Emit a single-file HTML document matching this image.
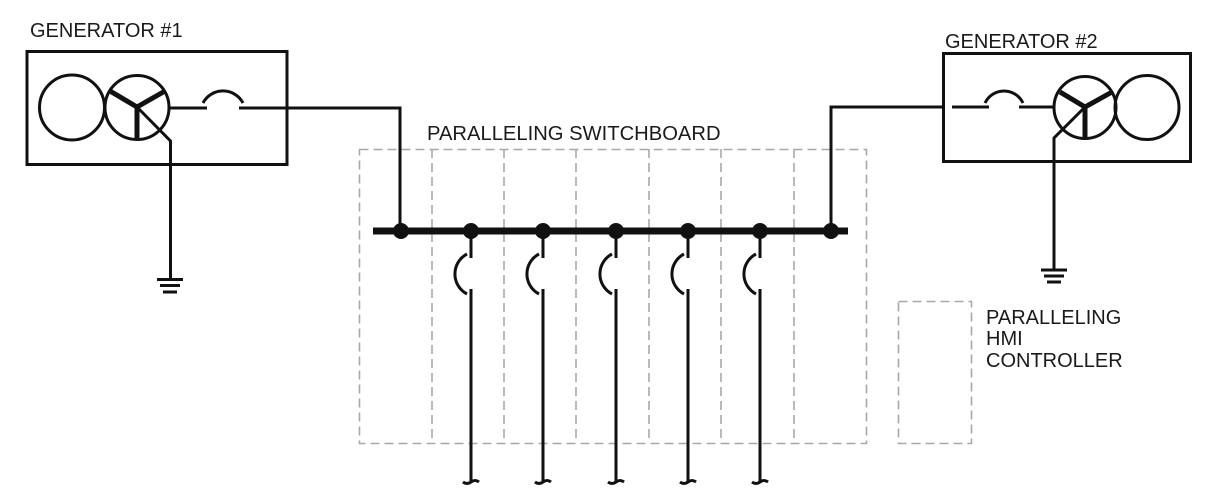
<!DOCTYPE html>
<html><head><meta charset="utf-8"><style>
html,body{margin:0;padding:0;background:#fff;width:1211px;height:503px;overflow:hidden}
svg{display:block}
text{font-family:"Liberation Sans",Arial,sans-serif;font-size:20px;fill:#1a1a1a}
</style></head><body>
<svg width="1211" height="503" viewBox="0 0 1211 503" xmlns="http://www.w3.org/2000/svg">
<g fill="none" stroke="#a8a8a8" stroke-width="1.600" stroke-dasharray="9 5">
<rect x="359.500" y="149.500" width="507" height="294"/>
<path d="M432 149V443M504 149V443M576 149V443M649 149V443M721 149V443M794 149V443"/>
<rect x="898.500" y="301.500" width="73" height="142"/>
</g>
<g fill="none" stroke="#111" stroke-width="3">
<rect x="27" y="51.500" width="260" height="113"/>
<circle cx="72" cy="107.500" r="32.500"/>
<circle cx="137" cy="107.500" r="32"/>
<path d="M170 108H207M239 108H400V231"/>
<path d="M203 103A22.600 22.600 0 0 1 243 103"/>
<path d="M137 107L170.500 141V279"/>
<path d="M157 279.500H183"/><path d="M160 285.500H180"/><path d="M163 292H177"/>
<rect x="943.500" y="53.500" width="247" height="108"/>
<circle cx="1147" cy="107.500" r="32"/>
<circle cx="1085" cy="107.500" r="31"/>
<path d="M952 107H989M1019 107H1054M943 107H831V231"/>
<path d="M985 103A21 21 0 0 1 1023 103"/>
<path d="M1085 107L1054 138V270"/>
<path d="M1041 270H1067"/><path d="M1044 276H1064"/><path d="M1047 282H1061"/>
</g>
<g fill="none" stroke="#111" stroke-width="5">
<path d="M110 91L137 107L165 91M137 107V140"/>
<path d="M1060 92L1085 107L1112 92M1085 107V138"/>
</g>
<path d="M373 231H848" stroke="#111" stroke-width="7"/>
<g fill="#111">
<circle cx="401" cy="231" r="8"/><circle cx="471" cy="231" r="8"/><circle cx="543" cy="231" r="8"/><circle cx="616" cy="231" r="8"/><circle cx="688" cy="231" r="8"/><circle cx="760" cy="231" r="8"/><circle cx="831" cy="231" r="8"/>
</g>
<g fill="none" stroke="#111" stroke-width="3">
<path d="M471 231V258M471 289V481M467 254A22.600 22.600 0 0 0 467 294M463 482Q467 485 471 482Q475 479 479 482"/>
<path d="M543 231V258M543 289V481M539 254A22.600 22.600 0 0 0 539 294M535 482Q539 485 543 482Q547 479 551 482"/>
<path d="M616 231V258M616 289V481M612 254A22.600 22.600 0 0 0 612 294M608 482Q612 485 616 482Q620 479 624 482"/>
<path d="M688 231V258M688 289V481M684 254A22.600 22.600 0 0 0 684 294M680 482Q684 485 688 482Q692 479 696 482"/>
<path d="M760 231V258M760 289V481M756 254A22.600 22.600 0 0 0 756 294M752 482Q756 485 760 482Q764 479 768 482"/>
</g>
<text x="30" y="37">GENERATOR #1</text>
<text x="945" y="48">GENERATOR #2</text>
<text x="427" y="140" style="font-size:20.200px">PARALLELING SWITCHBOARD</text>
<text x="986" y="324">PARALLELING</text>
<text x="986" y="345">HMI</text>
<text x="986" y="367">CONTROLLER</text>
</svg>
</body></html>
